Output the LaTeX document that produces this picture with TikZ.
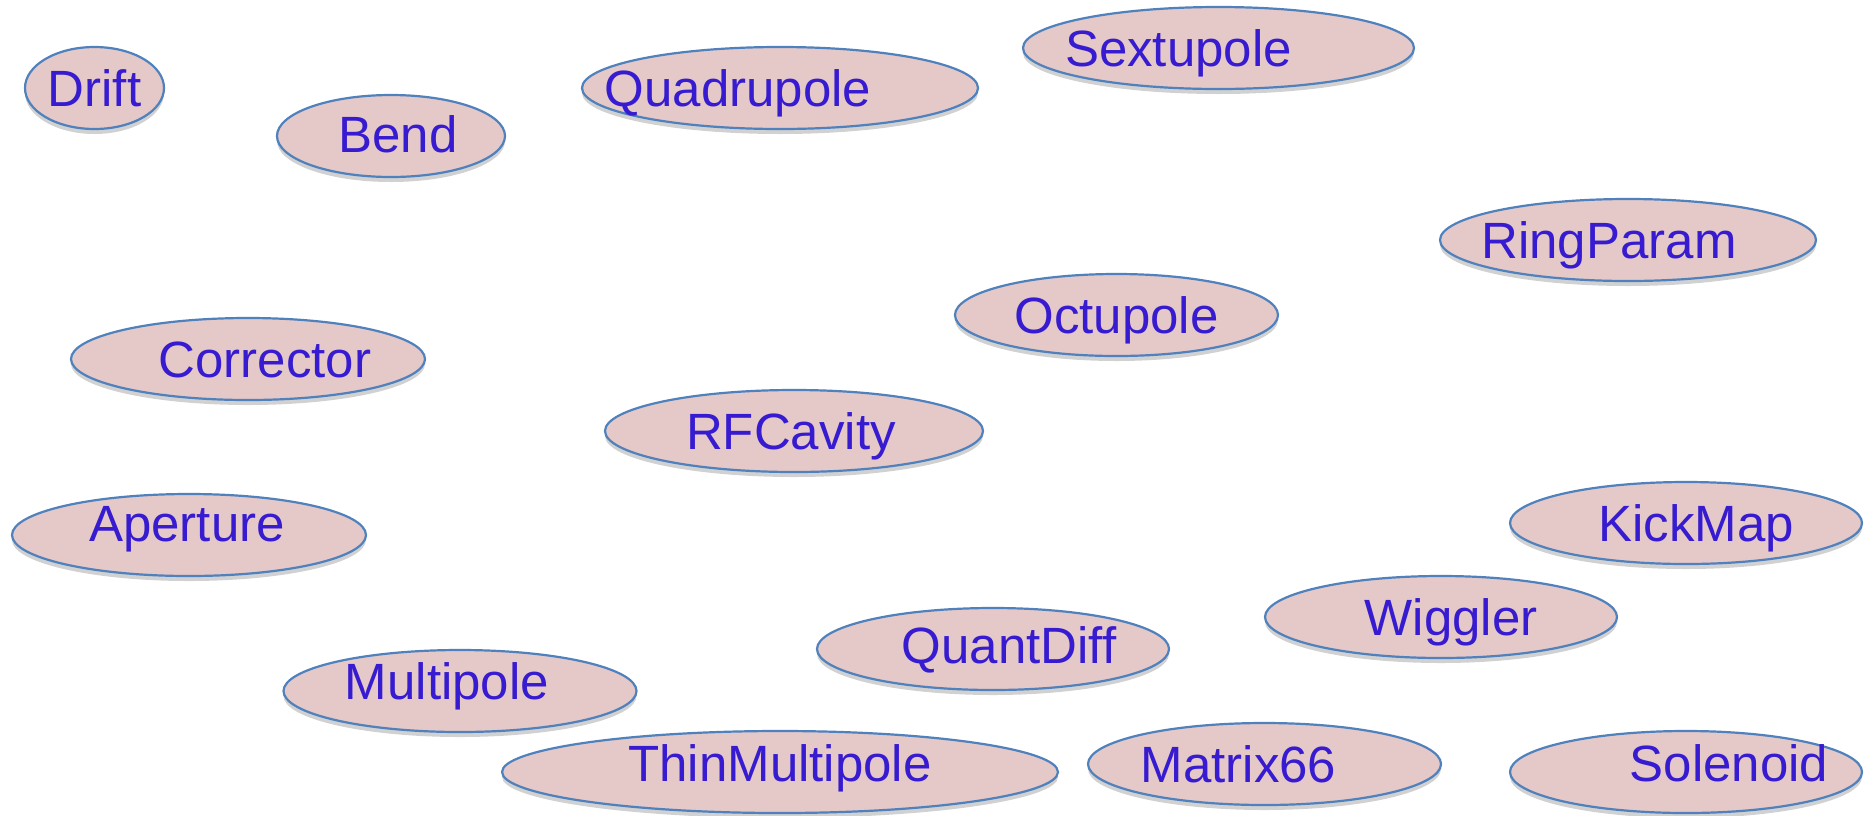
\documentclass[tikz,border=0pt]{standalone}
\usepackage{fontspec}
\setmainfont{Liberation Sans}
\usepackage{tikz}
\usetikzlibrary{shapes.geometric, shadows}

\definecolor{elemFill}{RGB}{229,200,200}
\definecolor{elemLine}{RGB}{79,129,189}
\definecolor{elemText}{RGB}{55,27,208}

\begin{document}
\begin{tikzpicture}[x=0.5pt, y=-0.5pt,
		elem/.style={ellipse, draw=elemLine, fill=elemFill, line width=1.1pt, inner sep=0pt, minimum height=41pt,
			drop shadow={shadow xshift=0pt, shadow yshift=-2.5pt, fill=black!18, opacity=1}},
		txt/.style={text=elemText, font=\fontsize{25.5}{30}\selectfont, inner sep=0pt, text height=18.3pt, text depth=0pt}]
			\useasboundingbox (0,0) rectangle (1867,815);

			\node[elem, minimum width=69.5pt, label={[txt]center:Drift}] (drift) at (94.5,88) {};
			\node[elem, minimum width=114pt, label={[txt, xshift=3.5pt, yshift=1pt]center:Bend}] (bend) at (391,136) {};
			\node[elem, minimum width=198pt, label={[txt, xshift=-21pt]center:Quadrupole}] (quad) at (780,88) {};
			\node[elem, minimum width=195.5pt, label={[txt, xshift=-20pt]center:Sextupole}] (sext) at (1218.5,48) {};
			\node[elem, minimum width=188pt, label={[txt, xshift=-9.5pt]center:RingParam}] (ring) at (1628,240) {};
			\node[elem, minimum width=161.5pt, label={[txt]center:Octupole}] (oct) at (1116.5,315) {};
			\node[elem, minimum width=177pt, label={[txt, xshift=8.5pt]center:Corrector}] (corr) at (248,359) {};
			\node[elem, minimum width=189pt, label={[txt, xshift=-1.5pt]center:RFCavity}] (rf) at (794,431) {};
			\node[elem, minimum width=177pt, label={[txt, xshift=-1pt, yshift=6pt]center:Aperture}] (aper) at (189,535) {};
			\node[elem, minimum width=176pt, label={[txt, xshift=5pt]center:KickMap}] (kick) at (1686,523) {};
			\node[elem, minimum width=176pt, label={[txt, xshift=5pt]center:Wiggler}] (wig) at (1441,617) {};
			\node[elem, minimum width=176pt, label={[txt, xshift=8pt, yshift=1.75pt]center:QuantDiff}] (qdiff) at (993,649) {};
			\node[elem, minimum width=176.5pt, label={[txt, xshift=-6.5pt, yshift=5pt]center:Multipole}] (multi) at (460,691) {};
			\node[elem, minimum width=278pt, label={[txt, yshift=4.5pt]center:ThinMultipole}] (thin) at (780,772) {};
			\node[elem, minimum width=176.5pt, label={[txt, xshift=-13pt]center:Matrix66}] (mat) at (1264.5,764) {};
			\node[elem, minimum width=176pt, label={[txt, xshift=21.5pt, yshift=4.5pt]center:Solenoid}] (sol) at (1686,772) {};

		\end{tikzpicture}
\end{document}
